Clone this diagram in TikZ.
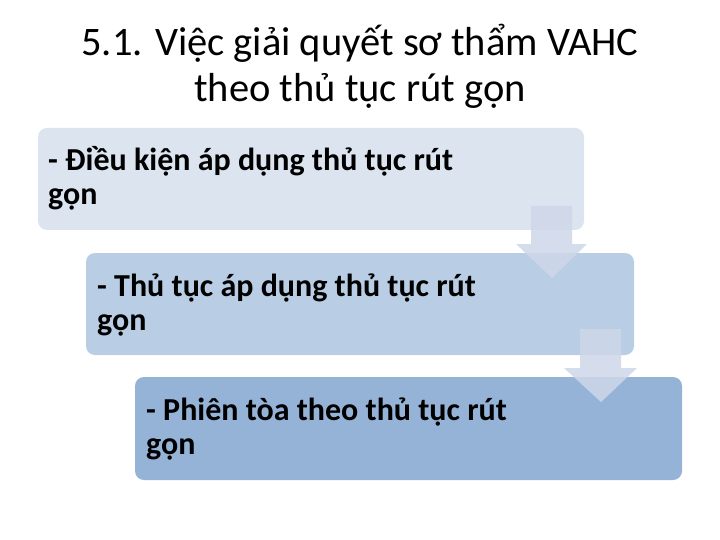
\documentclass[tikz,border=0pt]{standalone}
\usepackage{fontspec}
\setmainfont{Carlito}
\definecolor{boxa}{RGB}{220,228,240}
\definecolor{boxb}{RGB}{185,205,229}
\definecolor{boxc}{RGB}{149,179,215}
\definecolor{arrowc}{RGB}{206,215,232}
\begin{document}
\begin{tikzpicture}[x=1pt,y=-1pt,
  stepbox/.style={rounded corners=9pt, draw=none},
  steptext/.style={anchor=base west, align=left, inner sep=0pt,
     font=\fontsize{32}{34}\selectfont\bfseries},
  downarrow/.style={fill=arrowc, fill opacity=0.85, draw=none}]
\useasboundingbox (0,0) rectangle (720,540);
\fill[white] (0,0) rectangle (720,540);
\node[font=\fontsize{40.5}{46}\selectfont, align=center, anchor=base, inner sep=0pt] (title) at (360,102)
  {5.1. Việc giải quyết sơ thẩm VAHC\\theo thủ tục rút gọn};
\fill[stepbox, boxa] (38,128) rectangle (584,230);
\fill[stepbox, boxb] (86,253) rectangle (634,355);
\fill[stepbox, boxc] (135,377) rectangle (682,480);
\node[steptext] (t1) at (48,205) {- Điều kiện áp dụng thủ tục rút\\gọn};
\node[steptext] (t2) at (97,330) {- Thủ tục áp dụng thủ tục rút\\gọn};
\node[steptext] (t3) at (146,454) {- Phiên tòa theo thủ tục rút\\gọn};
\fill[downarrow] (531,206) -- (572,206) -- (572,244) -- (587,244) -- (552,278) -- (516,244) -- (531,244) -- cycle;
\fill[downarrow] (580,329) -- (621,329) -- (621,368) -- (637,368) -- (601,402) -- (564,368) -- (580,368) -- cycle;
\end{tikzpicture}
\end{document}
